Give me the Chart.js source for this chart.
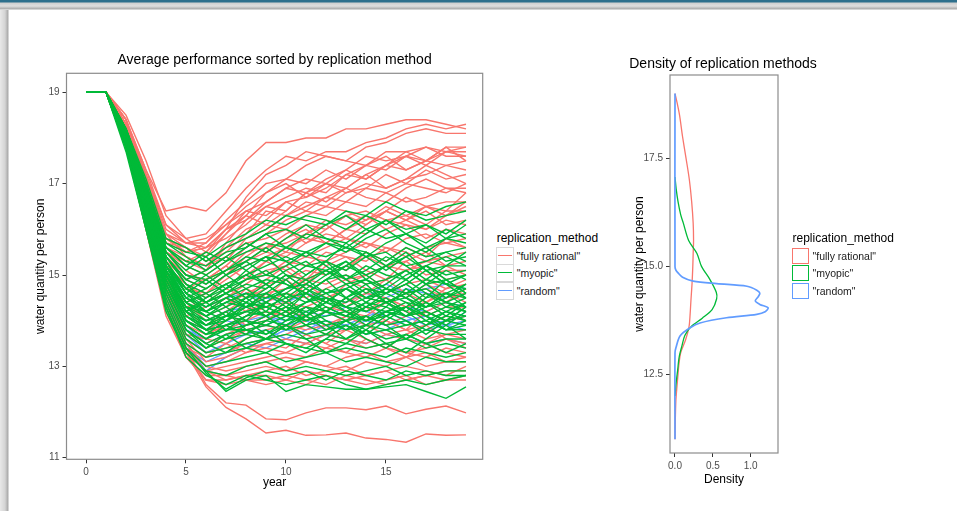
<!DOCTYPE html>
<html><head><meta charset="utf-8">
<script src="https://cdn.jsdelivr.net/npm/chart.js@4.4.1/dist/chart.umd.min.js"></script>
<style>
html,body{margin:0;padding:0;background:#fff;width:957px;height:511px;overflow:hidden;font-family:"Liberation Sans",Arial,sans-serif;}
#topbar{position:absolute;left:0;top:0;width:957px;height:10px;background:linear-gradient(#2d6f8c 0,#2d6f8c 2px,#cfcfcf 3px,#dedede 6px,#a9a9a9 9px,#fff 10px);}
#leftbar{position:absolute;left:0;top:10px;width:9px;height:501px;background:linear-gradient(to right,#e8e8e8 0,#d4d4d4 5px,#a8a8a8 8px,#fff 9px);}
canvas{position:absolute;}
.lg{position:absolute;left:0;top:0;color:#000;}
.lgt{position:absolute;font-size:12px;line-height:14px;white-space:nowrap;}
.lgk{position:absolute;box-sizing:border-box;}
.lgl{position:absolute;font-size:10.5px;line-height:12px;white-space:nowrap;color:#1a1a1a;}
</style></head>
<body>
<div id="topbar"></div><div id="leftbar"></div>
<canvas id="c1" width="478" height="460" style="left:10px;top:40px;"></canvas>
<canvas id="c2" width="246" height="460" style="left:600px;top:40px;"></canvas>
<div id="lg1" class="lg"></div>
<div id="lg2" class="lg"></div>
<script>
// ---------- data ----------
const years = [0,1,2,3,4,5,6,7,8,9,10,11,12,13,14,15,16,17,18,19];
const methods = ['"fully rational"','"myopic"','"random"'];
const methodColors = ['#F8766D','#00BA38','#619CFF'];
const leftTitle = 'Average performance sorted by replication method';
const rightTitle = 'Density of replication methods';
const legendTitle = 'replication_method';
const yAxisTitle = 'water quantity per person';
const xAxisTitleLeft = 'year';
const xAxisTitleRight = 'Density';
const leftYTicks = [11,13,15,17,19];
const leftXTicks = [0,5,10,15];
const rightYTicks = [12.5,15.0,17.5];
const rightXTicks = [0.0,0.5,1.0];

const fullyRationalRuns = [
[19,19,18.4,17.3,16.4,16.5,16.4,16.8,17.5,17.9,17.9,18.0,18.0,18.2,18.2,18.3,18.4,18.4,18.3,18.2],
[19,19,18.5,17.5,16.3,15.8,15.9,16.4,16.9,17.3,17.6,17.5,17.7,17.7,17.9,18.0,18.2,18.3,18.2,18.3],
[19,19,18.4,17.2,16.0,15.7,15.7,16.2,16.6,17.0,17.1,17.4,17.6,17.5,17.8,17.9,18.1,18.2,18.1,18.1],
[19,19,18.3,17.2,16.1,15.8,15.5,16.0,16.7,17.2,17.4,17.7,17.6,17.5,17.4,17.7,17.7,17.8,17.7,17.8],
[19,19,18.4,17.1,15.9,15.6,15.4,15.9,16.4,16.6,16.9,16.8,17.1,17.3,17.6,17.5,17.6,17.5,17.7,17.7],
[19,19,18.3,17.0,15.8,15.5,15.6,15.8,16.1,16.5,16.7,16.9,16.8,17.2,17.1,17.4,17.6,17.8,17.6,17.6],
[19,19,18.2,17.0,15.9,15.4,15.2,15.6,16.0,16.2,16.6,16.7,17.0,16.9,17.2,17.4,17.3,17.5,17.4,17.5],
[19,19,18.3,17.1,15.7,15.6,15.3,15.5,15.9,16.4,16.3,16.6,16.5,16.8,17.0,16.9,17.1,17.2,17.4,17.3],
[19,19,18.4,17.0,15.6,15.3,15.1,15.7,16.2,16.6,16.9,17.1,17.0,16.8,16.9,17.2,17.0,17.3,17.1,17.2],
[19,19,18.2,16.9,15.5,15.2,15.0,15.3,15.8,16.0,16.3,16.5,16.7,16.6,16.9,16.8,17.0,16.9,16.8,17.0],
[19,19,18.3,17.2,15.9,15.7,15.8,16.1,16.4,16.3,16.6,16.4,16.7,16.9,16.7,16.6,16.9,17.1,16.9,16.9],
[19,19,18.1,16.8,15.4,15.0,14.9,15.2,15.6,15.9,16.2,16.4,16.3,16.6,16.5,16.8,16.6,16.7,16.9,16.8],
[19,19,18.2,16.9,15.6,15.4,15.2,15.4,15.7,15.8,16.0,16.3,16.5,16.4,16.2,16.4,16.7,16.5,16.6,16.6],
[19,19,18.3,17.0,15.5,15.1,14.8,15.1,15.5,15.6,15.9,16.1,16.0,16.3,16.4,16.2,16.3,16.5,16.4,16.4],
[19,19,18.2,16.8,15.3,14.9,14.7,15.0,15.3,15.6,15.7,15.9,16.2,16.1,16.3,16.0,16.2,16.4,16.1,16.2],
[19,19,18.1,16.7,15.2,14.7,14.6,14.9,15.2,15.4,15.6,15.8,15.7,16.0,15.9,16.2,16.1,16.0,16.2,16.1],
[19,19,18.3,16.9,15.4,15.0,14.9,15.1,15.3,15.5,15.4,15.7,15.9,15.8,15.6,15.9,16.1,15.8,16.0,15.9],
[19,19,18.2,16.8,15.2,14.8,14.5,14.8,15.0,15.3,15.5,15.4,15.6,15.8,15.7,15.5,15.8,15.9,15.7,15.8],
[19,19,18.1,16.7,15.1,14.5,14.2,14.5,14.8,15.1,15.2,15.4,15.3,15.5,15.7,15.6,15.4,15.6,15.7,15.6],
[19,19,18.2,16.8,15.3,14.6,14.4,14.6,14.9,15.0,15.3,15.2,15.5,15.4,15.3,15.6,15.5,15.3,15.4,15.5],
[19,19,18.0,16.6,15.0,14.3,14.1,14.3,14.6,14.8,14.9,15.1,15.0,15.2,15.4,15.2,15.1,15.3,15.2,15.3],
[19,19,18.1,16.7,15.1,14.4,14.0,14.2,14.5,14.7,15.0,14.9,15.1,14.9,15.0,15.2,15.3,15.0,15.1,15.1],
[19,19,18.0,16.5,14.9,14.2,13.9,14.1,14.3,14.6,14.7,14.9,14.8,15.0,14.8,14.9,15.1,15.2,14.9,15.0],
[19,19,18.1,16.6,15.0,14.0,13.8,14.0,14.2,14.4,14.6,14.5,14.7,14.9,14.7,14.6,14.8,14.9,14.7,14.8],
[19,19,18.0,16.4,14.8,13.9,13.7,13.9,14.1,14.3,14.4,14.3,14.5,14.7,14.5,14.4,14.6,14.7,14.5,14.6],
[19,19,17.9,16.5,14.9,14.1,13.8,13.8,14.0,14.2,14.1,14.3,14.2,14.4,14.6,14.5,14.3,14.4,14.6,14.5],
[19,19,18.0,16.4,14.7,13.8,13.5,13.7,13.9,14.0,14.2,14.1,14.3,14.2,14.1,14.4,14.2,14.1,14.3,14.3],
[19,19,17.9,16.3,14.8,13.7,13.4,13.6,13.8,13.9,13.8,14.0,14.2,14.0,14.1,13.9,14.1,14.2,14.0,14.1],
[19,19,18.0,16.4,14.6,13.6,13.3,13.4,13.6,13.8,13.9,13.8,13.9,14.1,13.9,14.0,13.8,13.9,14.1,14.0],
[19,19,17.9,16.3,14.5,13.5,13.2,13.3,13.5,13.6,13.7,13.9,13.7,13.8,13.9,13.7,13.8,13.6,13.7,13.8],
[19,19,18.0,16.5,14.7,13.6,13.1,13.2,13.4,13.5,13.6,13.5,13.7,13.6,13.5,13.7,13.6,13.5,13.7,13.6],
[19,19,17.9,16.2,14.4,13.4,13.0,13.1,13.3,13.4,13.3,13.5,13.4,13.6,13.4,13.5,13.3,13.4,13.6,13.5],
[19,19,17.8,16.1,14.3,13.3,12.9,13.0,13.1,13.2,13.3,13.2,13.4,13.3,13.2,13.4,13.3,13.2,13.4,13.3],
[19,19,17.9,16.3,14.5,13.5,13.0,12.9,13.0,13.1,13.2,13.1,13.0,13.2,13.3,13.1,13.2,13.3,13.1,13.2],
[19,19,17.8,16.0,14.2,13.2,12.8,12.8,12.9,13.0,12.9,13.1,13.0,12.9,13.1,13.0,13.2,13.0,13.1,13.1],
[19,19,17.9,16.2,14.4,13.4,12.9,12.7,12.8,12.9,13.0,12.8,12.9,13.0,12.8,12.9,13.0,12.9,12.8,13.0],
[19,19,17.8,16.1,14.3,13.3,12.7,12.7,12.8,12.8,12.7,12.9,12.8,12.7,12.8,12.9,12.7,12.8,12.9,12.9],
[19,19,17.8,16.0,14.1,13.2,12.7,12.6,12.7,12.6,12.7,12.6,12.8,12.7,12.6,12.7,12.8,12.6,12.7,12.8],
[19,19,17.9,16.2,14.4,13.3,12.9,12.8,12.7,12.7,12.8,12.7,12.6,12.8,12.7,12.6,12.7,12.8,12.7,12.7],
[19,19,18.1,16.7,14.9,13.3,12.55,12.1,11.85,11.54,11.6,11.49,11.5,11.54,11.43,11.4,11.34,11.52,11.49,11.5],
[19,19,18.2,16.9,15.1,13.4,12.6,12.2,12.15,11.85,11.83,11.98,12.09,12.09,12.05,12.13,11.96,12.06,12.13,11.98],
[19,19,18.1,16.6,15.0,14.1,14.3,14.5,14.2,14.6,14.4,14.8,14.5,14.3,14.6,14.9,14.6,14.4,14.7,14.9],
[19,19,18.0,16.5,14.9,14.4,14.6,14.3,14.7,14.5,14.9,14.6,14.4,14.8,15.0,14.7,14.5,14.8,14.6,14.4],
[19,19,18.2,16.7,15.2,14.7,14.9,15.2,14.9,15.3,15.1,14.8,15.2,15.4,15.1,14.9,15.3,15.5,15.2,15.0],
[19,19,18.1,16.6,15.0,14.2,13.9,14.2,13.9,14.1,14.4,14.1,13.8,14.1,14.3,14.0,13.8,14.2,14.4,14.2],
[19,19,18.0,16.4,14.7,13.9,13.6,13.5,13.8,13.6,13.9,13.7,13.5,13.8,13.6,13.4,13.7,13.9,13.6,13.4],
[19,19,18.3,17.1,15.8,15.6,15.3,15.6,15.8,16.1,16.0,15.7,16.0,16.3,16.1,16.4,16.2,16.0,16.3,16.5],
[19,19,18.4,17.3,16.1,15.7,15.6,16.0,16.3,16.8,17.0,16.7,16.9,17.2,17.4,17.3,17.6,17.4,17.7,17.6],
[19,19,18.2,16.9,15.5,15.3,15.5,15.9,16.3,16.1,16.4,16.8,16.6,16.9,17.2,16.9,17.1,17.4,17.2,17.0],
[19,19,18.3,17.1,15.8,15.5,15.7,16.1,16.5,16.8,17.1,17.0,17.3,17.1,17.4,17.6,17.3,17.5,17.8,17.5],
[19,19,18.1,16.7,15.2,14.8,14.6,15.0,15.4,15.7,15.5,15.9,16.1,15.8,16.1,16.4,16.2,16.5,16.3,16.6],
[19,19,18.0,16.5,14.9,14.3,14.4,14.7,14.5,14.9,15.2,14.9,15.3,15.1,15.5,15.3,15.6,15.4,15.8,15.6],
[19,19,17.9,16.3,14.6,13.7,13.6,13.9,13.7,14.0,14.3,14.0,14.2,14.5,14.2,14.5,14.3,14.6,14.4,14.7],
[19,19,17.8,16.2,14.4,13.4,13.2,13.5,13.3,13.5,13.4,13.7,13.5,13.3,13.6,13.4,13.2,13.5,13.3,13.2],
[19,19,18.2,16.8,15.3,14.9,15.1,15.4,15.7,15.5,15.8,16.0,15.7,16.0,16.2,16.5,16.3,16.1,16.4,16.8],
[19,19,18.3,17.0,15.7,15.5,15.6,16.0,16.2,16.5,16.4,16.8,17.0,17.3,17.1,17.4,17.7,17.5,17.8,17.8]
];

const myopicRuns = [
[19,19,18.2,17.1,15.8,15.6,15.3,15.6,15.8,16.0,16.3,16.2,16.1,16.4,16.3,16.6,16.4,16.3,16.5,16.6],
[19,19,18.2,17.0,15.7,15.5,15.4,15.7,15.9,16.2,16.1,16.3,16.2,16.0,16.3,16.1,16.4,16.2,16.3,16.4],
[19,19,18.1,17.0,15.6,15.3,15.2,15.5,15.6,15.9,16.0,15.8,16.1,16.3,16.0,16.2,16.0,16.1,15.9,16.2],
[19,19,18.2,16.9,15.6,15.2,15.0,15.3,15.5,15.7,15.6,15.9,15.8,15.7,16.0,15.8,15.9,16.1,15.8,15.9],
[19,19,18.1,16.9,15.5,15.0,14.9,15.1,15.4,15.3,15.6,15.5,15.7,15.6,15.4,15.7,15.9,15.6,15.8,15.7],
[19,19,18.1,16.8,15.4,14.9,14.7,15.0,15.2,15.4,15.3,15.5,15.4,15.6,15.5,15.3,15.6,15.4,15.5,15.6],
[19,19,18.1,16.8,15.4,14.8,14.6,14.8,15.0,15.2,15.4,15.2,15.3,15.1,15.4,15.5,15.2,15.3,15.5,15.3],
[19,19,18.0,16.7,15.3,14.7,14.5,14.7,14.9,15.0,14.9,15.2,15.1,15.3,15.0,15.2,15.4,15.1,15.2,15.2],
[19,19,18.1,16.8,15.3,14.6,14.4,14.6,14.8,14.7,15.0,14.9,15.1,14.9,15.2,15.0,14.9,15.2,15.0,15.1],
[19,19,18.0,16.7,15.2,14.5,14.3,14.5,14.7,14.9,14.8,14.6,14.9,15.0,14.8,14.9,15.1,14.8,14.9,15.0],
[19,19,18.0,16.6,15.2,14.5,14.2,14.4,14.6,14.5,14.7,14.8,14.6,14.8,14.9,14.7,14.6,14.9,14.8,14.7],
[19,19,18.1,16.7,15.1,14.4,14.1,14.3,14.5,14.6,14.4,14.7,14.5,14.4,14.7,14.6,14.8,14.5,14.6,14.8],
[19,19,18.0,16.6,15.1,14.3,14.2,14.4,14.3,14.5,14.6,14.4,14.6,14.7,14.5,14.4,14.6,14.7,14.4,14.6],
[19,19,18.0,16.6,15.0,14.3,14.0,14.2,14.4,14.3,14.5,14.6,14.4,14.3,14.5,14.6,14.4,14.3,14.6,14.5],
[19,19,18.1,16.7,15.1,14.2,14.0,14.1,14.3,14.4,14.2,14.4,14.5,14.3,14.2,14.4,14.5,14.3,14.4,14.3],
[19,19,18.0,16.5,15.0,14.2,13.9,14.1,14.2,14.1,14.3,14.2,14.4,14.2,14.4,14.3,14.1,14.4,14.2,14.4],
[19,19,18.0,16.6,15.0,14.1,13.9,14.0,14.2,14.3,14.1,14.3,14.2,14.1,14.3,14.2,14.3,14.1,14.3,14.2],
[19,19,17.9,16.5,14.9,14.1,13.8,13.9,14.1,14.2,14.0,14.1,14.3,14.1,14.0,14.2,14.1,14.2,14.0,14.1],
[19,19,18.0,16.5,14.9,14.0,13.8,13.9,14.0,13.9,14.1,14.0,14.1,14.2,14.0,14.1,13.9,14.0,14.2,14.0],
[19,19,17.9,16.4,14.8,14.0,13.7,13.8,13.9,14.0,13.9,14.1,13.9,14.0,14.1,13.9,14.0,13.8,14.0,13.9],
[19,19,17.9,16.4,14.8,13.9,13.6,13.8,13.8,13.9,13.8,13.9,14.0,13.8,13.9,13.8,13.9,14.0,13.8,13.8],
[19,19,17.9,16.3,14.7,13.8,13.5,13.7,13.8,13.7,13.9,13.7,13.8,13.9,13.7,13.8,13.6,13.8,13.7,13.7],
[19,19,17.8,16.3,14.6,13.7,13.4,13.6,13.7,13.6,13.7,13.6,13.7,13.6,13.8,13.6,13.7,13.5,13.6,13.6],
[19,19,17.9,16.2,14.6,13.6,13.3,13.4,13.5,13.6,13.5,13.4,13.6,13.5,13.4,13.5,13.6,13.4,13.5,13.4],
[19,19,17.8,16.2,14.5,13.5,13.2,13.3,13.4,13.3,13.5,13.4,13.3,13.4,13.3,13.2,13.4,13.3,13.2,13.3],
[19,19,17.8,16.1,14.4,13.4,13.0,13.1,13.2,13.3,13.1,13.2,13.3,13.1,13.2,13.1,13.0,13.2,13.1,13.1],
[19,19,17.8,16.1,14.3,13.3,12.9,12.8,13.0,13.1,12.9,13.0,12.9,12.8,12.9,13.0,12.8,12.9,12.8,12.8],
[19,19,17.7,16.0,14.2,13.3,12.9,12.45,12.7,12.8,12.45,12.6,12.55,12.5,12.5,12.55,12.6,12.45,12.3,12.55],
[19,19,17.8,16.0,14.3,13.2,12.8,12.6,12.8,12.7,12.6,12.7,12.8,12.6,12.5,12.6,12.7,12.6,12.7,12.8],
[19,19,17.8,16.1,14.4,13.4,12.85,12.5,12.75,12.9,12.8,12.9,12.7,12.9,12.8,12.7,12.9,12.8,12.9,12.9],
[19,19,18.1,16.8,15.3,14.6,14.2,14.5,14.3,14.6,14.9,14.5,14.2,14.5,14.8,14.4,14.2,14.5,14.9,14.6],
[19,19,18.0,16.7,15.1,14.4,14.6,14.3,14.0,14.4,14.2,14.6,14.9,14.5,14.3,14.6,14.9,14.6,14.3,14.5],
[19,19,18.1,16.9,15.4,14.8,14.4,14.1,14.5,14.8,14.5,14.1,14.4,14.7,14.4,14.1,14.3,14.6,14.4,14.2],
[19,19,18.0,16.6,15.0,14.2,14.5,14.8,14.5,14.2,14.6,14.9,14.6,14.3,14.0,14.3,14.7,14.4,14.1,14.4],
[19,19,17.9,16.5,14.9,14.0,13.7,14.0,14.4,14.1,13.8,14.1,14.5,14.2,13.9,14.2,14.0,13.7,14.0,14.3],
[19,19,18.1,16.8,15.2,14.7,15.0,14.7,15.1,15.4,15.0,14.7,15.0,15.3,14.9,15.2,15.5,15.1,14.8,15.0],
[19,19,18.0,16.6,15.0,14.3,13.9,14.2,13.8,13.6,13.9,14.2,13.9,13.6,13.9,14.2,14.4,14.1,13.8,14.0],
[19,19,18.1,16.9,15.5,15.1,15.4,15.0,15.3,15.6,15.3,15.0,15.3,15.7,15.4,15.1,15.4,15.6,15.3,15.4],
[19,19,17.9,16.4,14.7,13.8,13.4,13.7,13.4,13.6,13.9,13.6,13.3,13.5,13.8,13.5,13.3,13.6,13.9,13.6],
[19,19,18.0,16.7,15.1,14.5,14.7,15.0,14.7,14.4,14.7,15.0,15.3,14.9,14.6,14.8,15.1,14.8,14.5,14.7],
[19,19,18.1,16.9,15.5,15.0,14.8,15.1,15.3,15.0,15.2,15.5,15.2,14.9,15.1,15.4,15.2,14.9,15.2,15.5],
[19,19,18.0,16.7,15.2,14.4,14.2,14.0,14.3,14.6,14.3,14.0,14.2,14.5,14.7,14.4,14.1,14.3,14.6,14.3],
[19,19,18.1,16.8,15.3,14.7,14.4,14.7,15.0,14.8,14.5,14.8,15.1,14.8,14.5,14.7,15.0,15.2,14.9,14.6],
[19,19,17.9,16.5,14.9,14.1,13.8,14.1,14.0,13.7,14.0,14.3,14.0,13.8,14.1,13.9,13.6,13.9,14.2,14.1],
[19,19,18.0,16.6,15.0,14.3,14.1,13.8,14.1,14.4,14.2,13.9,14.2,14.0,13.7,14.0,14.3,14.1,13.9,14.2],
[19,19,18.2,17.0,15.6,15.2,15.5,15.3,15.6,15.9,15.6,15.4,15.7,15.5,15.8,16.0,15.7,15.5,15.8,16.1],
[19,19,18.1,16.8,15.3,14.6,14.9,14.6,14.4,14.7,15.0,14.7,14.4,14.7,14.9,14.6,14.8,15.1,14.8,14.5],
[19,19,17.9,16.4,14.7,13.8,13.5,13.3,13.6,13.8,13.5,13.3,13.6,13.9,13.6,13.4,13.7,13.5,13.3,13.5],
[19,19,18.0,16.6,15.0,14.2,13.8,13.6,13.9,14.1,14.4,14.1,13.8,14.0,14.3,14.5,14.2,13.9,14.1,14.0],
[19,19,18.1,16.9,15.4,14.9,15.1,15.4,15.1,14.8,15.1,15.3,15.0,15.2,15.5,15.2,14.9,15.2,15.4,15.2],
[19,19,18.0,16.7,15.1,14.4,14.1,14.4,14.6,14.3,14.1,14.4,14.7,14.5,14.2,14.4,14.6,14.3,14.5,14.8],
[19,19,17.9,16.5,14.8,13.9,13.6,13.9,13.7,14.0,14.2,13.9,13.7,14.0,13.8,14.1,14.3,14.0,13.8,13.9],
[19,19,18.1,16.8,15.2,14.6,14.3,14.6,14.9,15.1,14.8,14.6,14.9,15.2,15.0,14.7,14.5,14.8,15.1,14.9],
[19,19,18.0,16.6,15.0,14.2,14.4,14.6,14.3,14.1,14.3,14.6,14.3,14.1,14.4,14.7,14.5,14.2,14.0,14.3],
[19,19,18.2,17.0,15.7,15.4,15.1,15.4,15.7,15.5,15.8,16.1,15.8,15.6,15.9,16.2,15.9,15.7,16.0,15.8]
];

const randomRuns = [
[19,19,17.9,16.4,14.6,13.5,12.9,13.2,13.4,13.6,13.8,13.7,13.9,13.8,14.0,13.9,14.1,13.9,14.0,14.1],
[19,19,18.0,16.5,14.8,13.8,13.6,13.8,14.0,14.1,14.0,14.2,14.1,14.3,14.2,14.1,14.3,14.2,14.4,14.3],
[19,19,18.1,16.7,15.0,14.2,14.0,14.2,14.3,14.5,14.4,14.6,14.5,14.4,14.6,14.5,14.7,14.6,14.5,14.6],
[19,19,17.9,16.3,14.5,13.4,13.1,13.3,13.5,13.4,13.6,13.5,13.7,13.6,13.5,13.7,13.6,13.5,13.6,13.5],
[19,19,18.0,16.6,14.9,14.0,13.8,14.0,13.9,14.1,13.9,14.0,14.2,14.0,14.1,13.9,14.0,14.1,13.9,14.0],
[19,19,18.1,16.8,15.2,14.5,14.3,14.5,14.6,14.4,14.7,14.8,14.6,14.7,14.5,14.8,14.6,14.7,14.8,14.7],
[19,19,18.0,16.5,14.8,13.9,13.5,13.7,13.8,13.9,14.1,14.0,13.8,13.9,14.1,14.2,14.0,13.8,13.9,14.2],
[19,19,17.9,16.4,14.7,13.7,13.3,13.5,13.7,13.8,13.6,13.8,14.0,13.9,13.7,13.8,14.0,14.1,13.9,13.8]
];

// density curves (water quantity -> density)
const rationalDensQ = [19.0,18.85,18.5,18.0,17.5,17.0,16.5,16.0,15.6,15.3,15.0,14.6,14.2,13.9,13.6,13.3,13.0,12.7,12.5,12.2,11.9,11.5,11.0];
const rationalDens  = [0.0,0.02,0.06,0.10,0.146,0.19,0.22,0.24,0.245,0.24,0.235,0.225,0.21,0.20,0.185,0.14,0.075,0.05,0.04,0.025,0.012,0.005,0.0];
const myopicDensQ = [17.07,16.8,16.5,16.2,16.0,15.6,15.3,15.0,14.7,14.4,14.25,14.0,13.8,13.6,13.4,13.15,12.9,12.6,12.3,12.0];
const myopicDens  = [0.0,0.015,0.04,0.075,0.11,0.18,0.29,0.35,0.46,0.545,0.55,0.49,0.36,0.21,0.13,0.09,0.055,0.035,0.015,0.0];
const randomDensQ = [19.0,15.0,14.92,14.85,14.75,14.66,14.6,14.54,14.45,14.38,14.3,14.2,14.12,14.04,13.95,13.89,13.81,13.69,13.58,13.39,13.12,13.0,11.0];
const randomDens  = [0.0,0.0,0.01,0.04,0.10,0.24,0.55,0.95,1.08,1.12,1.10,1.06,1.12,1.23,1.19,1.08,0.68,0.33,0.20,0.066,0.013,0.0,0.0];

// ---------- charts ----------
Chart.defaults.font.family = "'Liberation Sans', Arial, sans-serif";
Chart.defaults.animation = false;

const panelBorder = {
  id: 'panelBorder',
  afterDraw(chart) {
    const {ctx, chartArea: a} = chart;
    ctx.save();
    ctx.strokeStyle = '#8c8c8c';
    ctx.lineWidth = 1.2;
    ctx.strokeRect(a.left, a.top, a.right - a.left, a.bottom - a.top);
    ctx.restore();
  }
};

function lineDs(values, color) {
  return {
    data: years.map((x, i) => ({x: x, y: values[i]})),
    borderColor: color, borderWidth: 1.4, pointRadius: 0, showLine: true, fill: false, tension: 0
  };
}
function densDs(q, d, color, w) {
  return {
    data: q.map((v, i) => ({x: d[i], y: v})),
    borderColor: color, borderWidth: w, pointRadius: 0, showLine: true, fill: false, tension: 0.3
  };
}

// draw order bottom -> top, reversed because Chart.js paints dataset 0 last
const leftDatasets = [];
randomRuns.forEach(r => leftDatasets.push(lineDs(r, methodColors[2])));
fullyRationalRuns.forEach(r => leftDatasets.push(lineDs(r, methodColors[0])));
myopicRuns.forEach(r => leftDatasets.push(lineDs(r, methodColors[1])));
leftDatasets.reverse();

const tickFont = {size: 10};
const tickColor = '#4d4d4d';

function axisCommon(ticksArr, fmt) {
  return {
    type: 'linear',
    grid: {display: true, drawOnChartArea: false, drawTicks: true, tickLength: 4, tickColor: '#333333', tickWidth: 1},
    border: {display: false},
    afterBuildTicks: s => { s.ticks = ticksArr.map(v => ({value: v})); },
    ticks: {font: tickFont, color: tickColor, autoSkip: false, maxRotation: 0, callback: fmt}
  };
}

new Chart(document.getElementById('c1'), {
  type: 'scatter',
  data: {datasets: leftDatasets},
  options: {
    responsive: false, animation: false, events: [],
    layout: {padding: {left: 0, right: 5.3, top: 0, bottom: 0}},
    plugins: {
      legend: {display: false}, tooltip: {enabled: false},
      title: {display: true, text: leftTitle, fullSize: false, color: '#000', font: {size: 14, weight: 'normal'}, padding: {top: 11.6, bottom: 4.9}}
    },
    scales: {
      x: Object.assign(axisCommon(leftXTicks, v => String(v)), {
        min: -0.975, max: 19.835,
        title: {display: true, text: xAxisTitleLeft, color: '#000', font: {size: 12}, padding: {top: 0, bottom: 9.8}},
        afterFit: s => { s.height = 40.7; }
      }),
      y: Object.assign(axisCommon(leftYTicks, v => String(v)), {
        min: 10.965, max: 19.416,
        title: {display: true, text: yAxisTitle, color: '#000', font: {size: 12}, padding: {top: 23.3, bottom: 0}},
        afterFit: s => { s.width = 56.5; }
      })
    }
  },
  plugins: [panelBorder]
});

new Chart(document.getElementById('c2'), {
  type: 'scatter',
  data: {datasets: [
    densDs(randomDensQ, randomDens, methodColors[2], 1.7),
    densDs(myopicDensQ, myopicDens, methodColors[1], 1.3),
    densDs(rationalDensQ, rationalDens, methodColors[0], 1.3)
  ]},
  options: {
    responsive: false, animation: false, events: [],
    layout: {padding: {left: 0, right: 0, top: 0, bottom: 0}},
    plugins: {
      legend: {display: false}, tooltip: {enabled: false},
      title: {display: true, text: rightTitle, color: '#000', font: {size: 14, weight: 'normal'}, padding: {top: 15.9, bottom: 2.3}}
    },
    scales: {
      x: Object.assign(axisCommon(rightXTicks, v => Number(v).toFixed(1)), {
        min: -0.066, max: 1.36,
        title: {display: true, text: xAxisTitleRight, color: '#000', font: {size: 12}, padding: {top: 0, bottom: 12.8}},
        afterFit: s => { s.height = 47; }
      }),
      y: Object.assign(axisCommon(rightYTicks, v => Number(v).toFixed(1)), {
        min: 10.68, max: 19.43,
        title: {display: true, text: yAxisTitle, color: '#000', font: {size: 12}, padding: {top: 32.1, bottom: 0}},
        afterFit: s => { s.width = 70; }
      }),
      ySpacer: {
        type: 'linear', position: 'right', min: 0, max: 1,
        ticks: {display: false}, grid: {display: false}, border: {display: false},
        afterFit: s => { s.width = 68; }
      }
    }
  },
  plugins: [panelBorder]
});

// ---------- legends (HTML text) ----------
function buildLegend(el, x, y, kind) {
  let html = '<div class="lgt" style="left:' + (x + 1) + 'px;top:' + y + 'px;">' + legendTitle + '</div>';
  methods.forEach((m, i) => {
    const top = Math.round(y + 16 + i * 17.8);
    if (kind === 'line') {
      html += '<div class="lgk" style="left:' + x + 'px;top:' + top + 'px;width:18px;height:18px;border:1px solid #d9d9d9;background:#fff;"></div>';
      html += '<div class="lgk" style="left:' + (x + 2) + 'px;top:' + (top + 8) + 'px;width:14px;height:0;border-top:1.5px solid ' + methodColors[i] + ';"></div>';
    } else {
      html += '<div class="lgk" style="left:' + (x + 0.5) + 'px;top:' + (top + 0.6) + 'px;width:17px;height:16.6px;border:1.6px solid ' + methodColors[i] + ';background:#fff;"></div>';
    }
    html += '<div class="lgl" style="left:' + (x + 21) + 'px;top:' + (top + 3) + 'px;">' + m + '</div>';
  });
  el.innerHTML = html;
}
buildLegend(document.getElementById('lg1'), 495.7, 230.5, 'line');
buildLegend(document.getElementById('lg2'), 791.5, 230.5, 'fill');
</script>
</body></html>
